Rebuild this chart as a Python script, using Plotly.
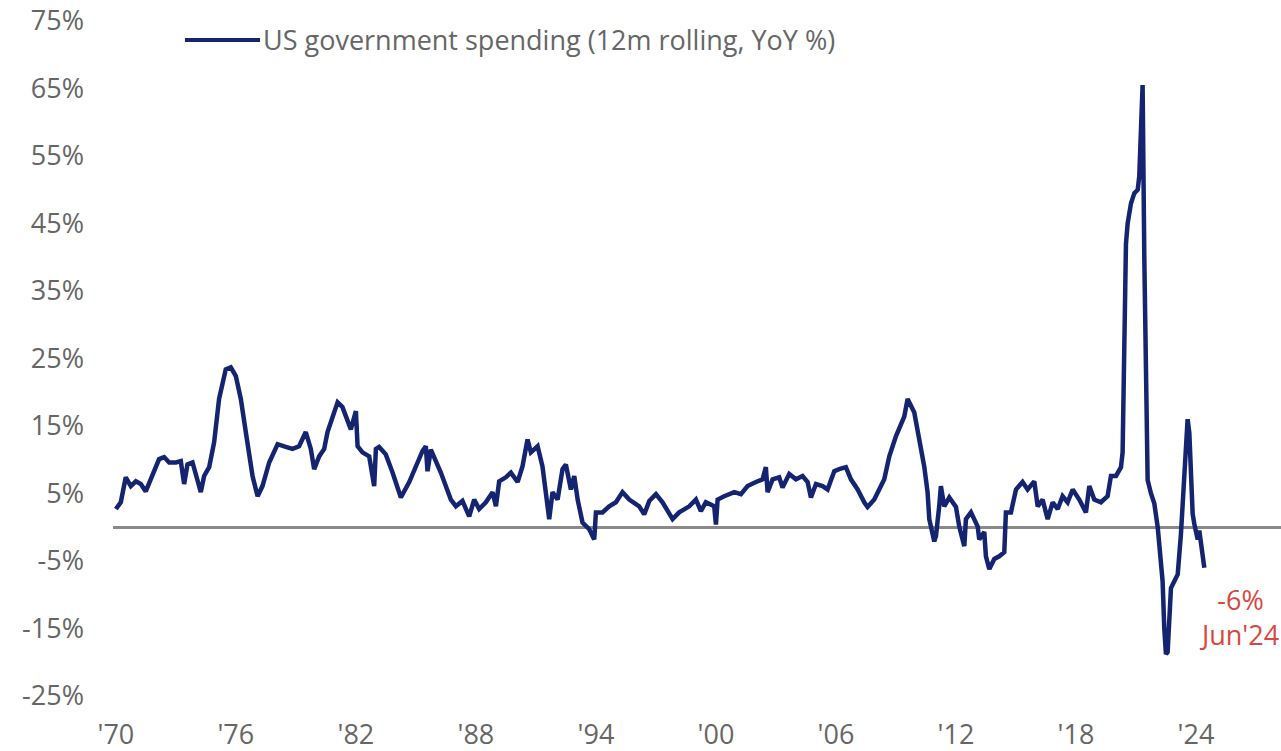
import plotly.graph_objects as go

# US government spending, 12-month rolling sum, year-over-year % change
dates = [
    "1970-01", "1970-04", "1970-07", "1970-10", "1971-01", "1971-04", "1971-07", "1971-10",
    "1972-03", "1972-06", "1972-09", "1973-01", "1973-04", "1973-06", "1973-08", "1973-11",
    "1974-01", "1974-04", "1974-06", "1974-09", "1974-12", "1975-03", "1975-07", "1975-10",
    "1976-01", "1976-04", "1976-07", "1976-11", "1977-02", "1977-05", "1977-09", "1978-02",
    "1978-07", "1978-11", "1979-03", "1979-07", "1979-10", "1979-12", "1980-03", "1980-06",
    "1980-08", "1980-11", "1981-02", "1981-05", "1981-08", "1981-10", "1982-01", "1982-02",
    "1982-05", "1982-09", "1982-12", "1983-01", "1983-03", "1983-07", "1983-11", "1984-04",
    "1984-09", "1985-02", "1985-05", "1985-07", "1985-08", "1985-10", "1985-12", "1986-04",
    "1986-07", "1986-10", "1987-01", "1987-05", "1987-09", "1987-12", "1988-03", "1988-07",
    "1988-11", "1989-01", "1989-03", "1989-07", "1989-10", "1990-02", "1990-05", "1990-08",
    "1990-10", "1991-02", "1991-05", "1991-07", "1991-09", "1991-11", "1992-02", "1992-05",
    "1992-07", "1992-10", "1992-12", "1993-02", "1993-05", "1993-09", "1993-12", "1994-01",
    "1994-05", "1994-09", "1995-01", "1995-05", "1995-09", "1996-03", "1996-06", "1996-09",
    "1997-01", "1997-05", "1997-09", "1997-11", "1998-03", "1998-09", "1999-01", "1999-04",
    "1999-07", "1999-12", "2000-01", "2000-02", "2000-06", "2000-12", "2001-04", "2001-08",
    "2002-01", "2002-05", "2002-07", "2002-08", "2002-11", "2003-03", "2003-05", "2003-09",
    "2004-01", "2004-05", "2004-08", "2004-10", "2005-01", "2005-05", "2005-08", "2005-12",
    "2006-03", "2006-07", "2006-10", "2007-02", "2007-06", "2007-08", "2007-12", "2008-03",
    "2008-06", "2008-09", "2009-01", "2009-06", "2009-08", "2009-12", "2010-03", "2010-06",
    "2010-08", "2010-09", "2010-12", "2011-01", "2011-03", "2011-04", "2011-06", "2011-09",
    "2012-01", "2012-03", "2012-06", "2012-07", "2012-10", "2013-02", "2013-03", "2013-06",
    "2013-07", "2013-09", "2013-12", "2014-03", "2014-06", "2014-07", "2014-10", "2015-01",
    "2015-05", "2015-08", "2015-12", "2016-02", "2016-05", "2016-08", "2016-11", "2017-02",
    "2017-05", "2017-08", "2017-11", "2018-03", "2018-07", "2018-09", "2018-12", "2019-04",
    "2019-08", "2019-10", "2020-01", "2020-04", "2020-05", "2020-06", "2020-07", "2020-08",
    "2020-10", "2020-12", "2021-02", "2021-03", "2021-04", "2021-05", "2021-06", "2021-07",
    "2021-08", "2021-10", "2021-12", "2022-02", "2022-04", "2022-05", "2022-06", "2022-07",
    "2022-08", "2022-09", "2022-10", "2022-12", "2023-02", "2023-04", "2023-06", "2023-08",
    "2023-09", "2023-10", "2023-11", "2023-12", "2024-01", "2024-02", "2024-03", "2024-04",
    "2024-05", "2024-06",
]
spending_yoy = [
    2.7, 3.7, 7.4, 6.1, 6.8, 6.4, 5.3, 7.1,
    10.1, 10.4, 9.6, 9.6, 9.8, 6.4, 9.3, 9.6,
    7.6, 5.2, 7.6, 8.9, 12.6, 19.0, 23.4, 23.7,
    22.4, 19.0, 14.1, 7.6, 4.6, 6.1, 9.6, 12.3,
    11.9, 11.6, 12.0, 14.1, 11.6, 8.6, 10.5, 11.6,
    14.1, 16.3, 18.5, 17.8, 15.6, 14.5, 17.2, 12.0,
    11.1, 10.5, 6.1, 11.6, 11.9, 10.8, 8.1, 4.4,
    6.7, 9.6, 11.3, 12.0, 8.3, 11.5, 10.4, 8.1,
    6.1, 4.1, 3.1, 3.9, 1.6, 4.1, 2.7, 3.7,
    5.2, 3.1, 6.8, 7.4, 8.1, 6.7, 9.0, 13.0,
    11.1, 12.0, 9.0, 5.6, 1.2, 5.2, 4.1, 8.6,
    9.3, 5.6, 7.6, 4.1, 0.7, -0.3, -1.8, 2.2,
    2.2, 3.1, 3.7, 5.2, 4.1, 3.1, 1.9, 3.9,
    4.9, 3.7, 2.2, 1.2, 2.2, 3.1, 4.1, 2.4,
    3.7, 3.1, 0.4, 4.1, 4.6, 5.2, 4.9, 6.1,
    6.7, 7.1, 8.9, 5.2, 7.1, 7.4, 5.9, 7.9,
    7.1, 7.6, 6.7, 4.4, 6.4, 6.1, 5.6, 8.3,
    8.6, 8.9, 7.1, 5.6, 3.7, 3.0, 4.1, 5.6,
    7.1, 10.5, 13.5, 16.4, 19.0, 17.0, 13.0, 9.0,
    5.2, 1.2, -2.1, -1.3, 3.1, 6.1, 3.1, 4.4,
    3.0, 0.1, -2.8, 1.2, 2.2, 0.1, -1.8, -0.7,
    -4.3, -6.2, -4.7, -4.3, -3.7, 2.2, 2.2, 5.6,
    6.7, 5.6, 6.8, 3.1, 4.1, 1.2, 3.7, 2.7,
    4.6, 3.7, 5.6, 4.1, 2.2, 6.1, 4.1, 3.7,
    4.6, 7.6, 7.6, 8.9, 11.1, 25.0, 42.0, 45.0,
    48.0, 49.5, 50.0, 52.0, 60.0, 65.5, 40.0, 20.0,
    7.0, 5.0, 3.5, 0.0, -5.0, -8.0, -15.0, -18.8,
    -18.5, -13.0, -9.0, -8.0, -7.0, -1.0, 7.0, 16.0,
    14.0, 8.0, 2.0, 0.5, -0.8, -1.8, -0.5, -2.8,
    -4.5, -6.0,
]

tick_years = [1970, 1976, 1982, 1988, 1994, 2000, 2006, 2012, 2018, 2024]
tick_labels = ["'70", "'76", "'82", "'88", "'94", "'00", "'06", "'12", "'18", "'24"]
y_ticks = [-25, -15, -5, 5, 15, 25, 35, 45, 55, 65, 75]

series_name = "US government spending (12m rolling, YoY %)"
last_label = "-6%<br>Jun'24"

NAVY = "#142470"
TEXT = "#666666"
RED = "#d9473f"
FONT = "Open Sans"
FS = 27

fig = go.Figure()
fig.add_trace(go.Scatter(
    x=dates, y=spending_yoy, mode="lines",
    line=dict(color=NAVY, width=4.5),
    name=series_name, showlegend=False, hoverinfo="skip",
))

# legend key drawn as a short line with a text label
fig.add_shape(type="line", xref="paper", yref="paper",
              x0=0.0616, x1=0.1259, y0=0.972, y1=0.972,
              line=dict(color=NAVY, width=4))
fig.add_annotation(xref="paper", yref="paper", x=0.1267, y=0.972,
                   xanchor="left", yanchor="middle", showarrow=False,
                   text=series_name, font=dict(family=FONT, size=FS, color=TEXT))

# latest-value callout
fig.add_annotation(x="2026-03-01", y=-13.3, xref="x", yref="y", showarrow=False,
                   text=last_label, align="center",
                   font=dict(family=FONT, size=FS, color=RED))

fig.update_layout(
    width=1281, height=751,
    margin=dict(l=113, r=0, t=21, b=55, autoexpand=False),
    paper_bgcolor="white", plot_bgcolor="white",
    font=dict(family=FONT, size=FS, color=TEXT),
    xaxis=dict(
        type="date", range=["1969-11-10", "2028-04-01"], automargin=False,
        tickvals=[f"{y}-01-01" for y in tick_years], ticktext=tick_labels,
        showgrid=False, showline=False, zeroline=False, ticks="",
        ticklabelstandoff=20, tickfont=dict(family=FONT, size=FS, color=TEXT),
    ),
    yaxis=dict(
        range=[-25, 75], tickvals=y_ticks, ticktext=[f"{v}%" for v in y_ticks],
        showgrid=False, showline=False, ticks="", automargin=False,
        zeroline=True, zerolinecolor="#8a8a8a", zerolinewidth=2.5,
        ticklabelstandoff=28, tickfont=dict(family=FONT, size=FS, color=TEXT),
    ),
)

fig.write_html("out.html")
